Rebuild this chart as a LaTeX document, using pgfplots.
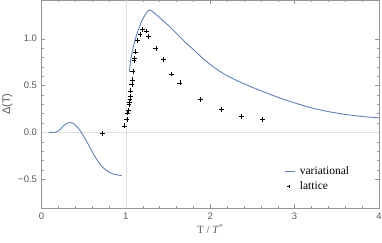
\documentclass[border=0pt]{standalone}
\usepackage{fontspec}
\setmainfont{Liberation Serif}
\newfontfamily\ticksf{Liberation Sans}
\usepackage{pgfplots}
\pgfplotsset{compat=1.18}
\definecolor{mblue}{rgb}{0.368,0.507,0.71}
\definecolor{framegray}{RGB}{150,150,150}
\definecolor{labgray}{RGB}{90,90,90}
\begin{document}
\begin{tikzpicture}
\begin{axis}[name=ax,
  scale only axis, width=337.5bp, height=208bp,
  xmin=0, xmax=4, ymin=-0.81, ymax=1.41,
  axis line style={framegray, line width=0.5pt},
  tick style={framegray, line width=0.4pt},
  tick align=inside,
  major tick length=4bp, minor tick length=2.2bp,
  xtick={0,1,2,3,4}, xticklabels={0,1,2,3,4},
  ytick={-0.5,0,0.5,1}, yticklabels={−0.5,0.0,0.5,1.0},
  minor x tick num=4, minor y tick num=4,
  ticklabel style={font=\ticksf\fontsize{9.5bp}{11bp}\selectfont, text=labgray},
  xticklabel style={yshift=-1.5bp},
  yticklabel style={xshift=-1bp},
  xlabel={T / \textit{T}\textsuperscript{*}},
  ylabel={\ticksf Δ(T)},
  label style={font=\fontsize{11bp}{12bp}\selectfont, text=labgray},
  xlabel style={yshift=2bp},
  ylabel style={yshift=-1bp},
  legend style={at={(0.712,0.222)}, anchor=north west, draw=none, fill=none,
    font=\fontsize{11.5bp}{13bp}\selectfont, row sep=1.5bp,
    /tikz/every odd column/.append style={column sep=2bp}},
  legend cell align=left,
  clip=true,
]
\addplot[gray!25, line width=0.5pt, forget plot] coordinates {(1,-0.81) (1,1.41)};
\addplot[gray!25, line width=0.5pt, forget plot] coordinates {(0,0) (4,0)};
\addplot[mblue, line width=0.9pt, smooth, tension=0.5,
  legend image code/.code={\draw[mblue, line width=0.9pt] (0bp,0bp) -- (10bp,0bp);}] coordinates {
(0.09,0.0)(0.15,0.0)(0.18,0.006)(0.22,0.03)(0.26,0.068)(0.30,0.097)(0.34,0.107)
(0.38,0.095)(0.42,0.062)(0.46,0.016)(0.50,-0.04)(0.55,-0.12)(0.60,-0.205)
(0.65,-0.282)(0.70,-0.345)(0.75,-0.392)(0.80,-0.423)(0.85,-0.443)(0.90,-0.454)(0.95,-0.46)};
\addlegendentry{variational}
\addplot[only marks, mark=+, mark size=2.4bp, black, mark options={line width=0.55pt},
  legend image code/.code={\draw[black, line width=0.5pt] (3.5bp,-1.5bp) -- (3.5bp,1.5bp) (2bp,0bp) -- (5bp,0bp);}] coordinates {
(0.726,-0.011)(0.982,0.070)(1.011,0.138)(1.018,0.207)(1.030,0.233)(1.038,0.299)
(1.046,0.324)(1.050,0.356)(1.058,0.384)(1.058,0.444)(1.070,0.511)(1.077,0.561)
(1.082,0.649)(1.097,0.765)(1.101,0.794)(1.113,0.860)(1.136,0.984)(1.168,1.048)
(1.196,1.101)(1.240,1.083)(1.267,1.026)(1.355,0.899)(1.447,0.781)(1.540,0.624)
(1.639,0.529)(1.884,0.352)(2.129,0.247)(2.370,0.172)(2.616,0.141)};
\addlegendentry{lattice}
\addplot[mblue, line width=0.9pt, smooth, tension=0.4, forget plot] coordinates {
(1.042,0.65)(1.05,0.72)(1.06,0.785)(1.075,0.86)(1.09,0.92)(1.11,0.99)(1.14,1.075)
(1.17,1.15)(1.20,1.21)(1.23,1.258)(1.255,1.29)(1.275,1.305)(1.30,1.30)(1.33,1.28)
(1.40,1.225)(1.50,1.145)(1.60,1.055)(1.70,0.965)(1.80,0.885)(1.90,0.80)(2.0,0.725)
(2.1,0.66)(2.2,0.605)(2.3,0.56)(2.4,0.52)(2.5,0.48)(2.6,0.445)(2.8,0.375)
(3.0,0.315)(3.2,0.262)(3.4,0.222)(3.6,0.192)(3.8,0.17)(4.0,0.155)};
\end{axis}
\pgfresetboundingbox
\path (ax.south west) ++(-41.5bp,-34bp) coordinate (bl);
\path (ax.north east) ++(3bp,0.3bp) coordinate (tr);
\useasboundingbox (bl) rectangle (tr);
\end{tikzpicture}
\end{document}
